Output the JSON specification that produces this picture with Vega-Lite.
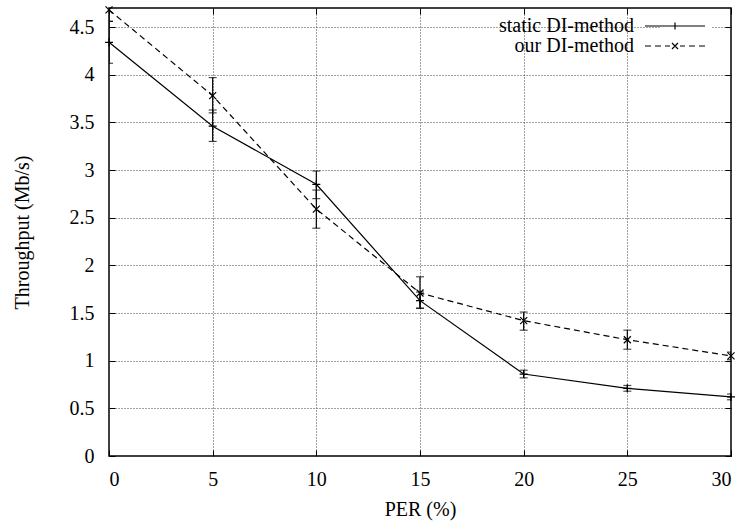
{
  "$schema": "https://vega.github.io/schema/vega-lite/v6.json",
  "width": 622,
  "height": 448,
  "autosize": {"type": "none"},
  "padding": {"left": 109, "top": 8, "right": 16, "bottom": 65},
  "config": {
    "font": "Liberation Serif",
    "view": {"stroke": "black", "strokeWidth": 1.5},
    "axis": {
      "labelFont": "Liberation Serif",
      "labelFontSize": 20,
      "labelColor": "black",
      "titleFont": "Liberation Serif",
      "titleFontSize": 20,
      "titleFontWeight": "normal",
      "titleColor": "black",
      "domain": false,
      "tickColor": "black",
      "tickSize": -6,
      "tickWidth": 1,
      "gridColor": "#444444",
      "gridDash": [1, 2],
      "gridWidth": 1
    }
  },
  "data": {
    "values": [
      {"method": "static DI-method", "per": 0, "thr": 4.34, "lo": 4.12, "hi": 4.56},
      {"method": "static DI-method", "per": 5, "thr": 3.46, "lo": 3.30, "hi": 3.63},
      {"method": "static DI-method", "per": 10, "thr": 2.85, "lo": 2.70, "hi": 2.99},
      {"method": "static DI-method", "per": 15, "thr": 1.63, "lo": 1.55, "hi": 1.72},
      {"method": "static DI-method", "per": 20, "thr": 0.86, "lo": 0.82, "hi": 0.90},
      {"method": "static DI-method", "per": 25, "thr": 0.71, "lo": 0.68, "hi": 0.74},
      {"method": "static DI-method", "per": 30, "thr": 0.62, "lo": 0.59, "hi": 0.65},
      {"method": "our DI-method", "per": 0, "thr": 4.68, "lo": 4.56, "hi": 4.80},
      {"method": "our DI-method", "per": 5, "thr": 3.78, "lo": 3.60, "hi": 3.97},
      {"method": "our DI-method", "per": 10, "thr": 2.59, "lo": 2.39, "hi": 2.79},
      {"method": "our DI-method", "per": 15, "thr": 1.71, "lo": 1.55, "hi": 1.88},
      {"method": "our DI-method", "per": 20, "thr": 1.42, "lo": 1.32, "hi": 1.51},
      {"method": "our DI-method", "per": 25, "thr": 1.22, "lo": 1.12, "hi": 1.32},
      {"method": "our DI-method", "per": 30, "thr": 1.05, "lo": 1.01, "hi": 1.09}
    ]
  },
  "resolve": {"axis": {"x": "independent", "y": "independent"}},
  "layer": [
    {
      "mark": {"type": "rule", "clip": true, "strokeWidth": 1.2, "color": "black"},
      "encoding": {
        "x": {
          "field": "per", "type": "quantitative",
          "scale": {"domain": [0, 30], "nice": false},
          "axis": {"orient": "bottom", "values": [0, 5, 10, 15, 20, 25, 30], "grid": true, "title": "PER (%)", "labelPadding": 19, "titlePadding": 10}
        },
        "y": {
          "field": "lo", "type": "quantitative",
          "scale": {"domain": [0, 4.7], "nice": false},
          "axis": {"orient": "left", "values": [0, 0.5, 1, 1.5, 2, 2.5, 3, 3.5, 4, 4.5], "format": "~g", "grid": true, "title": "Throughput (Mb/s)", "labelPadding": 21, "titlePadding": 37}
        },
        "y2": {"field": "hi"}
      }
    },
    {
      "mark": {"type": "tick", "orient": "horizontal", "size": 8, "thickness": 1.2, "color": "black", "clip": true},
      "encoding": {
        "x": {"field": "per", "type": "quantitative", "axis": null},
        "y": {"field": "lo", "type": "quantitative", "axis": null}
      }
    },
    {
      "mark": {"type": "tick", "orient": "horizontal", "size": 8, "thickness": 1.2, "color": "black", "clip": true},
      "encoding": {
        "x": {"field": "per", "type": "quantitative", "axis": null},
        "y": {"field": "hi", "type": "quantitative", "axis": null}
      }
    },
    {
      "transform": [{"filter": "datum.method === 'static DI-method'"}],
      "mark": {"type": "line", "color": "black", "strokeWidth": 1.2},
      "encoding": {
        "x": {"field": "per", "type": "quantitative", "axis": null},
        "y": {"field": "thr", "type": "quantitative", "axis": null}
      }
    },
    {
      "transform": [{"filter": "datum.method === 'our DI-method'"}],
      "mark": {"type": "line", "color": "black", "strokeWidth": 1.2, "strokeDash": [6, 4]},
      "encoding": {
        "x": {"field": "per", "type": "quantitative", "axis": null},
        "y": {"field": "thr", "type": "quantitative", "axis": null}
      }
    },
    {
      "transform": [{"filter": "datum.method === 'static DI-method'"}],
      "mark": {"type": "point", "shape": "M-1,0L1,0M0,-1L0,1", "filled": false, "stroke": "black", "strokeWidth": 1.2, "size": 64, "opacity": 1},
      "encoding": {
        "x": {"field": "per", "type": "quantitative", "axis": null},
        "y": {"field": "thr", "type": "quantitative", "axis": null}
      }
    },
    {
      "transform": [{"filter": "datum.method === 'our DI-method'"}],
      "mark": {"type": "point", "shape": "M-1,-1L1,1M-1,1L1,-1", "filled": false, "stroke": "black", "strokeWidth": 1.2, "size": 49, "opacity": 1},
      "encoding": {
        "x": {"field": "per", "type": "quantitative", "axis": null},
        "y": {"field": "thr", "type": "quantitative", "axis": null}
      }
    },
    {
      "transform": [{"filter": "false"}],
      "mark": {"type": "point", "filled": false, "stroke": "black", "strokeWidth": 1.2, "opacity": 1},
      "encoding": {
        "shape": {
          "field": "method", "type": "nominal",
          "scale": {
            "domain": ["static DI-method", "our DI-method"],
            "range": [
              "M-6,0L6,0M0,-0.7L0,0.7",
              "M-6,0L-4.8,0M-4,0L-2.8,0M-2,0L-1,0M1,0L2,0M2.8,0L4,0M4.8,0L6,0M-0.6,-0.6L0.6,0.6M-0.6,0.6L0.6,-0.6"
            ]
          },
          "legend": {
            "title": null,
            "orient": "none",
            "legendX": 552,
            "legendY": 4,
            "fillColor": "white",
            "padding": 4,
            "labelFont": "Liberation Serif",
            "labelFontSize": 20,
            "labelColor": "black",
            "labelAlign": "right",
            "labelOffset": -51,
            "labelLimit": 300,
            "symbolSize": 100,
            "symbolStrokeColor": "black",
            "symbolFillColor": "transparent",
            "symbolStrokeWidth": 1.2,
            "symbolOpacity": 1,
            "rowPadding": -2
          }
        }
      }
    },
    {
      "mark": {"type": "point", "opacity": 0},
      "encoding": {
        "x": {"field": "per", "type": "quantitative", "axis": {"orient": "top", "values": [0, 5, 10, 15, 20, 25, 30], "labels": false, "title": null, "grid": false}},
        "y": {"field": "thr", "type": "quantitative", "axis": {"orient": "right", "values": [0, 0.5, 1, 1.5, 2, 2.5, 3, 3.5, 4, 4.5], "labels": false, "title": null, "grid": false}}
      }
    }
  ]
}
